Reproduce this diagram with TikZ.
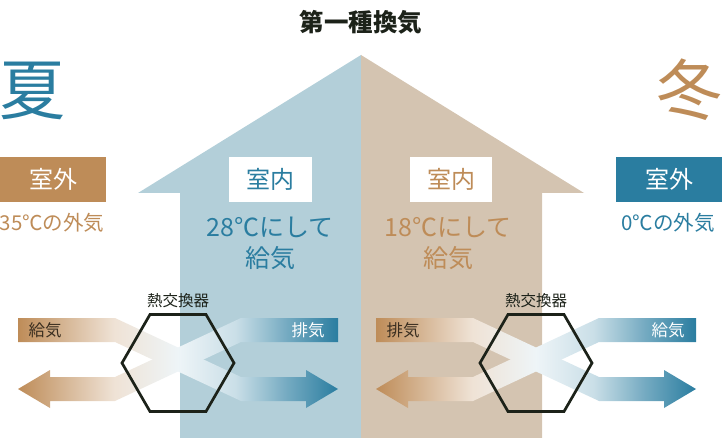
\documentclass[tikz,border=0pt]{standalone}
\usepackage{fontspec}
\setmainfont{Noto Sans CJK JP}
\usetikzlibrary{shapes.geometric}
\usetikzlibrary{positioning}
\definecolor{warm}{HTML}{BE8C58}
\definecolor{cool}{HTML}{2A7DA0}
\definecolor{roomcool}{HTML}{B3CFD9}
\definecolor{roomwarm}{HTML}{D4C4B1}
\definecolor{hexline}{HTML}{1C2219}
\definecolor{inktext}{HTML}{3A2E20}
\pgfdeclarehorizontalshading{airflow}{100bp}{color(0bp)=(warm); color(25bp)=(warm); color(32bp)=(warm!65); color(40bp)=(warm!25); color(50bp)=(cool!8); color(59bp)=(cool!25); color(67bp)=(cool!65); color(75bp)=(cool); color(100bp)=(cool)}

\begin{document}
\begin{tikzpicture}[x=1pt,y=-1pt,
		box/.style={minimum width=106pt,minimum height=45pt,inner sep=0pt,font=\fontsize{24}{24}\selectfont},
		note/.style={font=\fontsize{20.5}{20.5}\selectfont},
		inside/.style={align=center,font=\fontsize{25}{31}\selectfont},
		season/.style={font=\fontsize{66}{66}\selectfont},
		hexbox/.style={draw=hexline,line width=2.7pt,regular polygon,regular polygon sides=6,minimum size=112pt,inner sep=0pt},
		flowlabel/.style={font=\fontsize{16.5}{16.5}\selectfont}]
		\useasboundingbox (0,0) rectangle (722,438);
		
		% house
		\fill[roomcool] (361,55) -- (138,193) -- (180,193) -- (180,438) -- (361,438) -- cycle;
		\fill[roomwarm] (361,55) -- (584,193) -- (542,193) -- (542,438) -- (361,438) -- cycle;
		
		\node[font=\bfseries\fontsize{24.5}{24.5}\selectfont,text=hexline] (title) at (361,22) {第一種換気};
		\node[season,text=cool] (summer) at (32,91) {夏};
		\node[season,text=warm] (winter) at (689,90) {冬};
		
		\node[box,fill=warm,text=white] (out1) at (53,179.5) {室外};
		\node[box,fill=white,text=cool,minimum width=83pt] (in1) at (270.5,179.5) {室内};
		\node[box,fill=white,text=warm,minimum width=82pt] (in2) at (451,179.5) {室内};
		\node[box,fill=cool,text=white] (out2) at (669,179.5) {室外};
		
		\node[note,text=warm] (outtext1) at (52,223) {35℃の外気};
		\node[inside,text=cool] (intext1) at (270,243) {28℃にして\\給気};
		\node[inside,text=warm] (intext2) at (448,243) {18℃にして\\給気};
		\node[note,text=cool] (outtext2) at (668,223) {0℃の外気};
		
		% summer exchanger
		\shade[shading=airflow] (18,318) -- (115,318) -- (241,377) -- (306,377) -- (306,370) -- (338,389) -- (306,408) -- (306,401) -- (241,401) -- (115,342) -- (18,342) -- cycle;
		\shade[shading=airflow] (338,318) -- (241,318) -- (115,377) -- (50,377) -- (50,370) -- (18,389) -- (50,408) -- (50,401) -- (115,401) -- (241,342) -- (338,342) -- cycle;
		\node[hexbox] (hx1) at (178,363) {};
		\node[above=2pt of hx1,font=\fontsize{15.5}{15.5}\selectfont,text=hexline] (hxname1) {熱交換器};
		\node[flowlabel,text=inktext] (supply1) at (45,330) {給気};
		\node[flowlabel,text=white] (exhaust1) at (308,330) {排気};
		
		% winter exchanger
		\begin{scope}[xshift=358pt]
			\shade[shading=airflow] (18,318) -- (115,318) -- (241,377) -- (306,377) -- (306,370) -- (338,389) -- (306,408) -- (306,401) -- (241,401) -- (115,342) -- (18,342) -- cycle;
			\shade[shading=airflow] (338,318) -- (241,318) -- (115,377) -- (50,377) -- (50,370) -- (18,389) -- (50,408) -- (50,401) -- (115,401) -- (241,342) -- (338,342) -- cycle;
			\node[hexbox] (hx2) at (178,363) {};
			\node[above=2pt of hx2,font=\fontsize{15.5}{15.5}\selectfont,text=hexline] (hxname2) {熱交換器};
			\node[flowlabel,text=inktext] (exhaust2) at (45,330) {排気};
			\node[flowlabel,text=white] (supply2) at (310,330) {給気};
		\end{scope}
		
\end{tikzpicture}
\end{document}
